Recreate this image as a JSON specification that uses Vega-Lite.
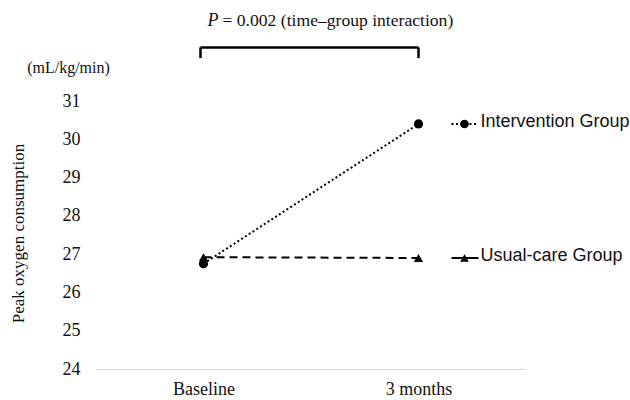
{
  "$schema": "https://vega.github.io/schema/vega-lite/v6.json",
  "width": 430,
  "height": 268,
  "autosize": {"type": "none"},
  "padding": {"left": 96, "top": 101, "right": 104, "bottom": 31},
  "background": "white",
  "config": {
    "view": {"stroke": null},
    "axisY": {
      "labelOverlap": false, "tickCount": 8, "domain": false, "ticks": false, "grid": false,
      "labelFont": "Liberation Serif", "labelFontSize": 18, "labelColor": "#111", "labelPadding": 16,
      "titleFont": "Liberation Serif", "titleFontSize": 17, "titleFontWeight": "normal", "titleColor": "#111"
    },
    "axisX": {
      "ticks": false, "grid": false, "domainColor": "#d9d9d9", "domainWidth": 1,
      "labelFont": "Liberation Serif", "labelFontSize": 18, "labelColor": "#111",
      "labelPadding": 11, "labelAngle": 0
    }
  },
  "datasets": {
    "series": [
      {"time": "Baseline", "group": "Intervention Group", "value": 26.75},
      {"time": "3 months", "group": "Intervention Group", "value": 30.4},
      {"time": "Baseline", "group": "Usual-care Group", "value": 26.92},
      {"time": "3 months", "group": "Usual-care Group", "value": 26.9}
    ],
    "bracket": [
      {"start": "Baseline", "end": "3 months", "y": 32.4, "yb": 32.12}
    ],
    "notes": [
      {"time": "Baseline", "y": 33.1, "p": "P", "rest": "= 0.002 (time–group interaction)", "unit": "(mL/kg/min)", "uy": 31.86}
    ]
  },
  "layer": [
    {
      "data": {"name": "series"},
      "mark": {"type": "line", "strokeWidth": 2, "color": "black"},
      "encoding": {
        "x": {
          "field": "time", "type": "nominal",
          "scale": {"type": "point", "padding": 0.5, "domain": ["Baseline", "3 months"]},
          "axis": {"title": null}
        },
        "y": {
          "field": "value", "type": "quantitative",
          "scale": {"domain": [24, 31], "nice": false, "zero": false},
          "axis": {
            "title": "Peak oxygen consumption",
            "titleX": -78, "titleY": 132, "titleAngle": -90, "titleBaseline": "middle", "titleAlign": "center",
            "values": [24, 25, 26, 27, 28, 29, 30, 31],
            "labelOverlap": false
          }
        },
        "detail": {"field": "group"},
        "strokeDash": {
          "field": "group", "type": "nominal",
          "scale": {"domain": ["Intervention Group", "Usual-care Group"], "range": [[2, 2.5], [8, 5]]},
          "legend": null
        }
      }
    },
    {
      "data": {"name": "series"},
      "mark": {"type": "point", "filled": true, "opacity": 1, "color": "black", "size": 85},
      "encoding": {
        "x": {"field": "time", "type": "nominal"},
        "y": {"field": "value", "type": "quantitative"},
        "shape": {
          "field": "group", "type": "nominal",
          "scale": {"domain": ["Intervention Group", "Usual-care Group"], "range": ["circle", "triangle-up"]},
          "legend": null
        }
      }
    },
    {
      "data": {"name": "series"},
      "transform": [{"filter": "datum.time === '3 months' && datum.group === 'Intervention Group'"}],
      "mark": {"type": "rule", "strokeWidth": 2, "color": "black", "xOffset": 33, "x2Offset": 60, "strokeDash": [2, 2.5]},
      "encoding": {
        "x": {"field": "time", "type": "nominal"},
        "x2": {"field": "time"},
        "y": {"field": "value", "type": "quantitative"}
      }
    },
    {
      "data": {"name": "series"},
      "transform": [{"filter": "datum.time === '3 months' && datum.group === 'Usual-care Group'"}],
      "mark": {"type": "rule", "strokeWidth": 2, "color": "black", "xOffset": 33, "x2Offset": 60},
      "encoding": {
        "x": {"field": "time", "type": "nominal"},
        "x2": {"field": "time"},
        "y": {"field": "value", "type": "quantitative"}
      }
    },
    {
      "data": {"name": "series"},
      "transform": [{"filter": "datum.time === '3 months'"}],
      "mark": {"type": "point", "filled": true, "opacity": 1, "color": "black", "size": 75, "xOffset": 46},
      "encoding": {
        "x": {"field": "time", "type": "nominal"},
        "y": {"field": "value", "type": "quantitative"},
        "shape": {"field": "group", "type": "nominal", "legend": null}
      }
    },
    {
      "data": {"name": "series"},
      "transform": [{"filter": "datum.time === '3 months'"}],
      "mark": {"type": "text", "align": "left", "baseline": "middle", "dx": 62, "dy": -2, "font": "Liberation Sans", "fontSize": 18, "color": "#111"},
      "encoding": {
        "x": {"field": "time", "type": "nominal"},
        "y": {"field": "value", "type": "quantitative"},
        "text": {"field": "group"}
      }
    },
    {
      "data": {"name": "bracket"},
      "mark": {"type": "rule", "strokeWidth": 2.5, "color": "black", "xOffset": -3},
      "encoding": {
        "x": {"field": "start", "type": "nominal"},
        "x2": {"field": "end"},
        "y": {"field": "y", "type": "quantitative"}
      }
    },
    {
      "data": {"name": "bracket"},
      "mark": {"type": "rule", "strokeWidth": 2.5, "color": "black", "xOffset": -3},
      "encoding": {
        "x": {"field": "start", "type": "nominal"},
        "y": {"field": "y", "type": "quantitative"},
        "y2": {"field": "yb"}
      }
    },
    {
      "data": {"name": "bracket"},
      "mark": {"type": "rule", "strokeWidth": 2.5, "color": "black"},
      "encoding": {
        "x": {"field": "end", "type": "nominal"},
        "y": {"field": "y", "type": "quantitative"},
        "y2": {"field": "yb"}
      }
    },
    {
      "data": {"name": "notes"},
      "mark": {"type": "text", "align": "left", "baseline": "middle", "dx": 4, "font": "Liberation Serif", "fontSize": 18, "fontStyle": "italic", "color": "#111"},
      "encoding": {
        "x": {"field": "time", "type": "nominal"},
        "y": {"field": "y", "type": "quantitative"},
        "text": {"field": "p"}
      }
    },
    {
      "data": {"name": "notes"},
      "mark": {"type": "text", "align": "left", "baseline": "middle", "dx": 19, "font": "Liberation Serif", "fontSize": 17.6, "color": "#111"},
      "encoding": {
        "x": {"field": "time", "type": "nominal"},
        "y": {"field": "y", "type": "quantitative"},
        "text": {"field": "rest"}
      }
    },
    {
      "data": {"name": "notes"},
      "mark": {"type": "text", "align": "center", "baseline": "middle", "dx": -135, "font": "Liberation Serif", "fontSize": 16, "color": "#111"},
      "encoding": {
        "x": {"field": "time", "type": "nominal"},
        "y": {"field": "uy", "type": "quantitative"},
        "text": {"field": "unit"}
      }
    }
  ]
}
